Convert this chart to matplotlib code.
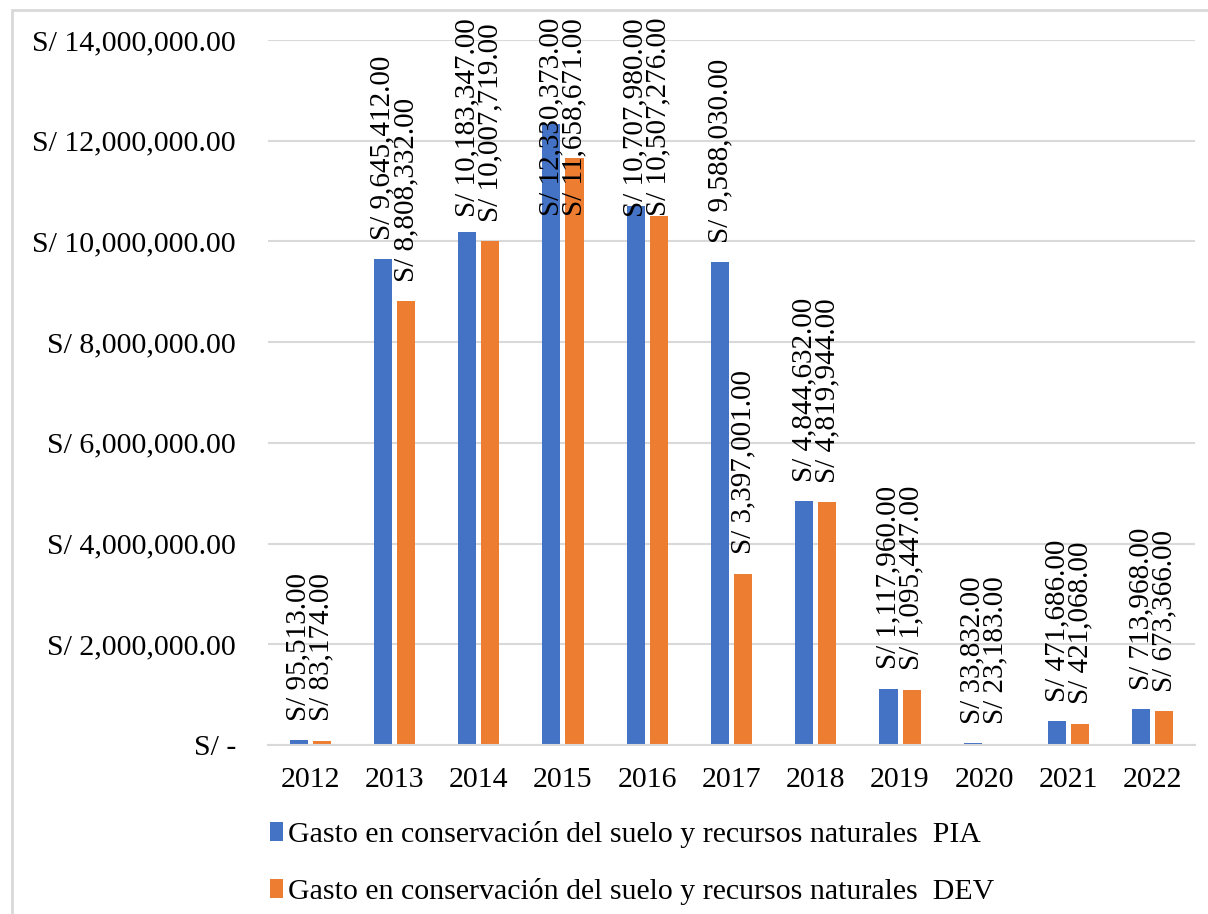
import numpy as np
import matplotlib
matplotlib.use('Agg')
import matplotlib.pyplot as plt
from matplotlib.patches import Rectangle
from matplotlib.ticker import FuncFormatter

plt.rcParams['font.family'] = ['Liberation Serif', 'DejaVu Serif']

years = ['2012', '2013', '2014', '2015', '2016', '2017', '2018', '2019', '2020', '2021', '2022']
pia = [95513, 9645412, 10183347, 12330373, 10707980, 9588030, 4844632, 1117960, 33832, 471686, 713968]
dev = [83174, 8808332, 10007719, 11658671, 10507276, 3397001, 4819944, 1095447, 23183, 421068, 673366]
series_names = ['Gasto en conservación del suelo y recursos naturales  PIA',
                'Gasto en conservación del suelo y recursos naturales  DEV']
colors = ['#4472C4', '#ED7D31']

W, H = 1208, 914
fig = plt.figure(figsize=(W / 100, H / 100), dpi=100)
ax = fig.add_axes([268 / W, (H - 745) / H, (1195 - 268) / W, (745 - 40) / H])

# chart area border (cut off on right and bottom like the screenshot)
fig.patches.append(Rectangle((12 / W, -0.1), 1.2, (H - 10) / H + 0.1, transform=fig.transFigure,
                             fill=False, edgecolor='#d9d9d9', linewidth=2))

x = np.arange(len(years))
w = 0.215
off = 0.137
bars1 = ax.bar(x - off, pia, w, color=colors[0], label=series_names[0])
bars2 = ax.bar(x + off, dev, w, color=colors[1], label=series_names[1])

ax.set_xlim(-0.5, len(years) - 0.5)
ax.set_ylim(0, 14000000)
ax.set_yticks(np.arange(0, 14000001, 2000000))


def money(v, pos):
    if v == 0:
        return 'S/ -'
    return 'S/ {:,.2f}'.format(v)


ax.yaxis.set_major_formatter(FuncFormatter(money))
ax.set_xticks(x)
ax.set_xticklabels(years)
ax.tick_params(axis='both', length=0, labelsize=21.5)
ax.tick_params(axis='y', pad=23)
ax.tick_params(axis='x', pad=16)
ax.grid(axis='y', color='#d9d9d9', linewidth=1.5)
ax.set_axisbelow(True)
for s in ['top', 'right', 'left']:
    ax.spines[s].set_visible(False)
ax.spines['bottom'].set_color('#d9d9d9')
ax.spines['bottom'].set_linewidth(1.5)

texts = []
for bars, vals in [(bars1, pia), (bars2, dev)]:
    for b, v in zip(bars, vals):
        t = ax.annotate('S/ {:,.2f}'.format(v), (b.get_x() + b.get_width() / 2, v),
                        xytext=(0, 14), textcoords='offset points', rotation=90,
                        ha='center', va='bottom', fontsize=21, annotation_clip=False)
        texts.append(t)

# keep labels inside the chart area, like Excel does
fig.canvas.draw()
r = fig.canvas.get_renderer()
top_limit = H - 18
for t in texts:
    bb = t.get_window_extent(r)
    if bb.y1 > top_limit:
        dx, dy = t.xyann
        t.xyann = (dx, dy - (bb.y1 - top_limit) * 72 / 100)

leg = fig.legend(handles=[bars1, bars2], loc='upper left', bbox_to_anchor=(243 / W, (H - 794) / H),
                 frameon=False, fontsize=21.5, handlelength=0.45, handleheight=0.6,
                 handletextpad=0.15, labelspacing=1.0)

fig.savefig('out.png', dpi=100)
